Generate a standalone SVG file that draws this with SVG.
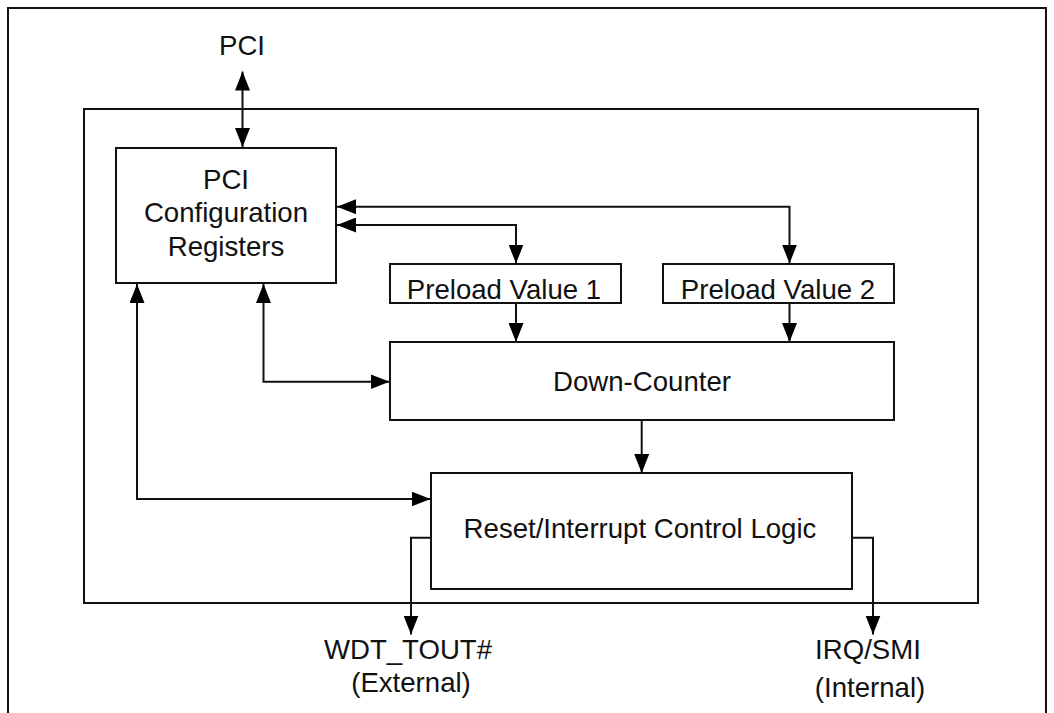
<svg xmlns="http://www.w3.org/2000/svg" width="1054" height="713" viewBox="0 0 1054 713">
<style>
  .box { fill: #fff; stroke: #111; stroke-width: 2; }
  .frame { fill: none; stroke: #111; stroke-width: 2; }
  .conn { fill: none; stroke: #111; stroke-width: 2; }
  .bi { marker-start: url(#ah); marker-end: url(#ah); }
  .uni { marker-end: url(#ah); }
  text { font-family: "Liberation Sans", Arial, sans-serif; font-size: 27.6px; fill: #111; text-anchor: middle; }
</style>
<defs>
  <marker id="ah" viewBox="0 0 19 15" refX="19" refY="7.5" markerWidth="19" markerHeight="15" markerUnits="userSpaceOnUse" orient="auto-start-reverse">
    <path d="M0,0 L19,7.5 L0,15 Z" fill="#000"/>
  </marker>
</defs>
<rect width="1054" height="713" fill="#fff"/>
<g id="outer-frame">
  <rect class="frame" x="8" y="8" width="1038" height="720"/>
</g>
<g id="watchdog-block">
  <rect class="frame" x="84" y="109" width="894" height="494"/>
</g>
<g id="pci-label">
  <text x="242" y="55">PCI</text>
</g>
<g id="pci-config">
  <rect class="box" x="116" y="148" width="220" height="135"/>
  <text x="226" y="188.5">PCI</text>
  <text x="226" y="222">Configuration</text>
  <text x="226" y="255.5">Registers</text>
</g>
<g id="preload1">
  <rect class="box" x="390" y="264" width="231" height="39"/>
  <text x="504" y="298.5">Preload Value 1</text>
</g>
<g id="preload2">
  <rect class="box" x="663" y="264" width="231" height="39"/>
  <text x="778" y="298.5">Preload Value 2</text>
</g>
<g id="down-counter">
  <rect class="box" x="390" y="342" width="504" height="78"/>
  <text x="642" y="390.5">Down-Counter</text>
</g>
<g id="reset-logic">
  <rect class="box" x="431" y="473" width="421" height="116"/>
  <text x="640" y="537.5">Reset/Interrupt Control Logic</text>
</g>
<g id="wdt-label">
  <text x="408" y="659">WDT_TOUT#</text>
  <text x="411" y="692">(External)</text>
</g>
<g id="irq-label">
  <text x="868" y="659">IRQ/SMI</text>
  <text x="870" y="697">(Internal)</text>
</g>
<g id="connectors">
  <path class="conn bi" d="M242.5,71.5 V147"/>
  <path class="conn bi" d="M337,206.7 H789.5 V263.5"/>
  <path class="conn bi" d="M337,225 H516 V263.5"/>
  <path class="conn uni" d="M516,304 V342"/>
  <path class="conn uni" d="M789.5,304 V342"/>
  <path class="conn bi" d="M263.5,284 V381.7 H389.5"/>
  <path class="conn bi" d="M137,284 V499 H430.5"/>
  <path class="conn uni" d="M641.7,421 V473"/>
  <path class="conn uni" d="M430,537.7 H411 V634.5"/>
  <path class="conn uni" d="M853,537.7 H873 V634.5"/>
</g>
</svg>
